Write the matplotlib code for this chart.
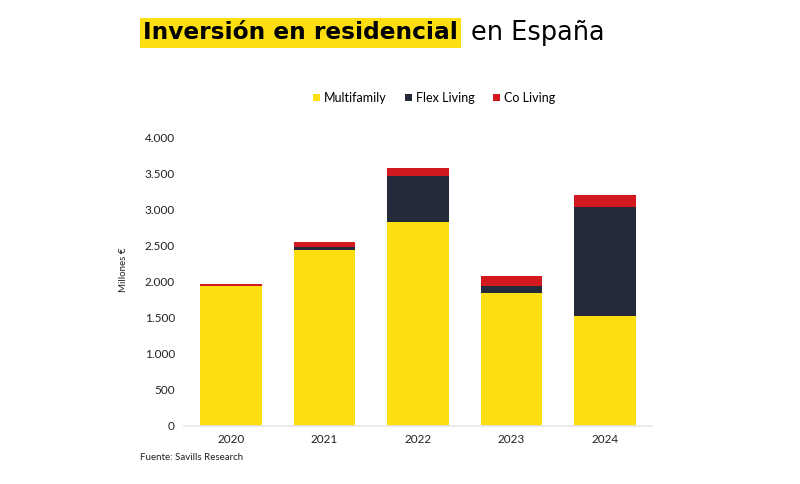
import numpy as np
import matplotlib.pyplot as plt
from matplotlib.ticker import FuncFormatter

# ------------------------------------
# DATA (millones de euros)
# ------------------------------------
years = ["2020", "2021", "2022", "2023", "2024"]
multifamily = [1940, 2436, 2824, 1845, 1522]
flex_living = [0, 46, 637, 97, 1513]
co_living = [20, 65, 111, 134, 162]

series_names = ["Multifamily", "Flex Living", "Co Living"]
colors = ["#FDDE10", "#252A3A", "#D2191F"]

plt.rcParams["font.family"] = ["Lato", "DejaVu Sans"]

fig = plt.figure(figsize=(8, 4.84), dpi=100)
ax = fig.add_axes([0.23, 1 - 426 / 484, 0.585, (426 - 137) / 484])

x = np.arange(len(years))
width = 0.66
bottom = np.zeros(len(years))
for name, vals, c in zip(series_names, [multifamily, flex_living, co_living], colors):
    ax.bar(x, vals, width, bottom=bottom, color=c, label=name, zorder=2)
    bottom += np.array(vals)

ax.set_xlim(-0.5, len(years) - 0.5)
ax.set_ylim(0, 4000)
ax.set_yticks(np.arange(0, 4001, 500))
ax.yaxis.set_major_formatter(FuncFormatter(lambda v, p: f"{int(v):,}".replace(",", ".")))
ax.set_xticks(x)
ax.set_xticklabels(years)

for s in ["top", "right", "left"]:
    ax.spines[s].set_visible(False)
ax.spines["bottom"].set_color("#E6E6E6")
ax.spines["bottom"].set_linewidth(1.2)
ax.tick_params(axis="both", length=0, labelsize=8.5, colors="#222222")
ax.tick_params(axis="y", pad=6.5)
ax.tick_params(axis="x", pad=6)

fig.text(124 / 800, 1 - 270 / 484, "Millones €", rotation=90, ha="center", va="center",
         fontsize=7, color="#222222")
fig.text(140 / 800, 1 - 458 / 484, "Fuente: Savills Research", ha="left", va="center",
         fontsize=7, color="#222222")

# Legend
leg = ax.legend(loc="center", bbox_to_anchor=(434 / 800, 1 - 98 / 484), bbox_transform=fig.transFigure,
                ncol=3, frameon=False, fontsize=9, handlelength=0.55, handleheight=0.55,
                handletextpad=0.3, columnspacing=1.5)

# Title with highlight, sized to the reference width
t1 = fig.text(143 / 800, 1 - 33 / 484, "Inversión en residencial", ha="left", va="center",
              fontsize=18, fontweight="bold", color="black", family="DejaVu Sans",
              bbox=dict(facecolor="#FDDE10", edgecolor="none", pad=2.5))
fig.canvas.draw()
ext = t1.get_window_extent()
t1.set_fontsize(18 * 315 / ext.width)
fig.canvas.draw()
ext = t1.get_window_extent()
t2 = fig.text(ext.x1 / 800 + 13 / 800, 1 - 33 / 484, "en España", ha="left", va="center",
              fontsize=18, color="black", family="DejaVu Sans")
fig.canvas.draw()
t2.set_fontsize(18 * 134 / t2.get_window_extent().width)

fig.savefig("out.png", dpi=100)
